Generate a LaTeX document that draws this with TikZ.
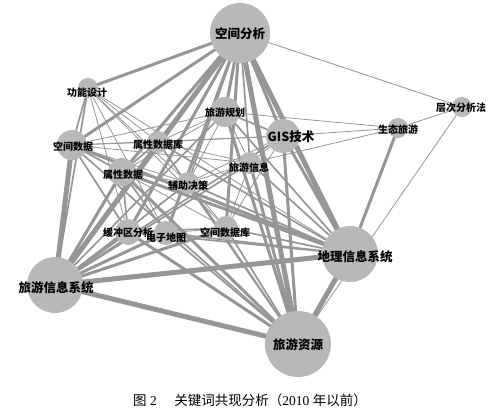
\documentclass[tikz,border=0pt]{standalone}
\usepackage{fontspec}
\newfontfamily\cjk{Noto Sans CJK SC}
\setmainfont{Liberation Serif}
\usetikzlibrary{backgrounds}
\definecolor{nodegray}{RGB}{184,184,184}
\definecolor{edgegray}{RGB}{150,150,150}
\begin{document}
\begin{tikzpicture}[x=1pt,y=-1pt,
  kw/.style={circle,fill=nodegray,inner sep=0pt},
  lab/.style={font=\cjk\bfseries\fontsize{10}{10}\selectfont,inner sep=0pt},
  big/.style={font=\cjk\bfseries\fontsize{12.5}{13}\selectfont,inner sep=0pt},
  ln/.style={draw=edgegray,line cap=round},
  wa/.style={ln,line width=0.8pt},
  wb/.style={ln,line width=1.7pt},
  wc/.style={ln,line width=3pt},
  wd/.style={ln,line width=5pt}]
\useasboundingbox (0,0) rectangle (500,418);
% keyword circles
\node[kw,minimum size=60pt] (A) at (240,33) {};
\node[kw,minimum size=20pt] (B) at (462,107) {};
\node[kw,minimum size=20pt] (C) at (398,128) {};
\node[kw,minimum size=34pt] (D) at (283,136) {};
\node[kw,minimum size=30pt] (E) at (225,112) {};
\node[kw,minimum size=20pt] (F) at (88,88) {};
\node[kw,minimum size=30pt] (G) at (72,145) {};
\node[kw,minimum size=22pt] (H) at (158,142) {};
\node[kw,minimum size=28pt] (I) at (122,172) {};
\node[kw,minimum size=22pt] (J) at (188,183) {};
\node[kw,minimum size=22pt] (K) at (250,163) {};
\node[kw,minimum size=26pt] (L) at (128,232) {};
\node[kw,minimum size=24pt] (M) at (166,233) {};
\node[kw,minimum size=24pt] (N) at (226,228) {};
\node[kw,minimum size=56pt] (O) at (55,285) {};
\node[kw,minimum size=56pt] (P) at (350,254) {};
\node[kw,minimum size=66pt] (Q) at (298,344) {};
% connectors
\begin{pgfonlayer}{background}
\foreach \a/\b in {A/O,A/Q,A/P,O/Q,O/P,O/G,P/Q}{\draw[wd] (\a) -- (\b);}
\foreach \a/\b in {A/G,A/F,A/E,A/D,A/I,A/L,A/M,A/N,O/I,O/L,O/M,O/N,O/H,P/D,P/I,P/G,Q/D,Q/E,Q/I,Q/L,Q/K,P/C}{\draw[wc] (\a) -- (\b);}
\foreach \a/\b in {A/J,A/K,A/H,O/F,O/E,O/D,O/K,O/J,P/H,P/L,P/M,P/N,P/E,P/K,P/J,Q/M,Q/N,Q/J,Q/H,Q/G,F/G,G/I,I/L,I/M,H/I,E/D,L/N,G/L}{\draw[wb] (\a) -- (\b);}
\foreach \a/\b in {A/B,B/C,B/Q,C/D,C/E,C/K,F/H,F/J,F/M,F/L,F/N,G/H,G/J,G/D,G/E,H/E,H/D,I/J,J/K,J/N,E/K,K/N,L/M,M/N,I/N,G/K,H/K,E/I,D/N,D/K,D/J,E/J,F/P}{\draw[wa] (\a) -- (\b);}
\end{pgfonlayer}
% labels
\node[big] (tA) at (240,34) {空间分析};
\node[lab] (tB) at (461,108) {层次分析法};
\node[lab] (tC) at (398,130) {生态旅游};
\node[big] (tD) at (291,137) {GIS技术};
\node[lab] (tE) at (225,113) {旅游规划};
\node[lab] (tF) at (87,93) {功能设计};
\node[lab] (tG) at (73,147) {空间数据};
\node[lab] (tH) at (158,145) {属性数据库};
\node[lab] (tI) at (123,175) {属性数据};
\node[lab] (tJ) at (188,186) {辅助决策};
\node[lab] (tK) at (249,168) {旅游信息};
\node[lab] (tL) at (128,233) {缓冲区分析};
\node[lab] (tM) at (166,238) {电子地图};
\node[lab] (tN) at (225,233) {空间数据库};
\node[big] (tO) at (56,288) {旅游信息系统};
\node[big] (tP) at (355,257) {地理信息系统};
\node[big] (tQ) at (298,345) {旅游资源};
% caption
\node[font=\fontsize{13.5}{14}\selectfont,inner sep=0pt] (cap) at (250,400)
  {{\cjk 图}~2\hspace{1.3em}{\cjk 关键词共现分析（}2010~{\cjk 年以前）}};
\end{tikzpicture}
\end{document}
